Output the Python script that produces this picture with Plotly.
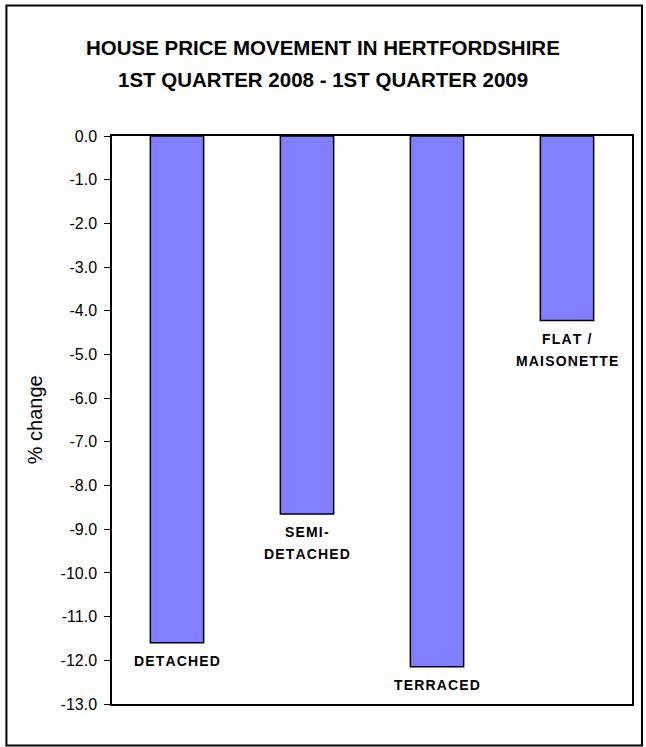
import plotly.graph_objects as go

# ---- data ----
categories = ["DETACHED", "SEMI-DETACHED", "TERRACED", "FLAT / MAISONETTE"]
bar_labels = [["DETACHED"], ["SEMI-", "DETACHED"], ["TERRACED"], ["FLAT /", "MAISONETTE"]]
pct_change = [-11.6, -8.65, -12.15, -4.22]
tick_values = [0, -1, -2, -3, -4, -5, -6, -7, -8, -9, -10, -11, -12, -13]
tick_labels = ["0.0", "-1.0", "-2.0", "-3.0", "-4.0", "-5.0", "-6.0", "-7.0",
               "-8.0", "-9.0", "-10.0", "-11.0", "-12.0", "-13.0"]
title_lines = ["HOUSE PRICE MOVEMENT IN HERTFORDSHIRE", "1ST QUARTER 2008 - 1ST QUARTER 2009"]
y_title = "% change"

W, H = 646, 747
ML, MR, MT, MB = 112, 12, 136, 43
PW, PH = W - ML - MR, H - MT - MB
FONT = "Liberation Sans, Arial, sans-serif"


def px_x(p):
    return (p - ML) / PW


def px_y(p):
    return (H - MB - p) / PH


def spaced(s):
    return "\u200a".join(list(s))


fig = go.Figure(go.Bar(
    x=categories, y=pct_change,
    marker=dict(color="#8080FF", line=dict(color="black", width=1.5)),
    hoverinfo="skip",
))

annotations = []
for cat, val, lines in zip(categories, pct_change, bar_labels):
    for i, ln in enumerate(lines):
        annotations.append(dict(
            x=cat, y=val, xref="x", yref="y", text="<b>" + spaced(ln) + "</b>",
            showarrow=False, yanchor="middle", xanchor="center",
            yshift=-(18.5 + 22 * i),
            font=dict(family=FONT, size=14, color="black"),
        ))

for i, t in enumerate(title_lines):
    annotations.append(dict(
        x=px_x(324), y=px_y(48 + 32 * i), xref="paper", yref="paper",
        text="<b>" + t + "</b>", showarrow=False, xanchor="center", yanchor="middle",
        font=dict(family=FONT, size=20.5, color="black"),
    ))

annotations.append(dict(
    x=px_x(35), y=0.5, xref="paper", yref="paper", text=y_title, textangle=-90,
    showarrow=False, xanchor="center", yanchor="middle",
    font=dict(family=FONT, size=20, color="black"),
))

fig.update_layout(
    width=W, height=H,
    margin=dict(l=ML, r=MR, t=MT, b=MB, pad=0),
    paper_bgcolor="white", plot_bgcolor="white",
    showlegend=False, bargap=0.59,
    annotations=annotations,
    shapes=[dict(type="rect", xref="paper", yref="paper",
                 x0=px_x(6), x1=px_x(644), y0=px_y(745.5), y1=px_y(5.5),
                 line=dict(color="black", width=2), fillcolor="rgba(0,0,0,0)",
                 layer="below")],
    font=dict(family=FONT, color="black"),
)
fig.update_xaxes(showticklabels=False, ticks="", showline=True, mirror=True,
                 linecolor="black", linewidth=1.5, showgrid=False, zeroline=False)
fig.update_yaxes(range=[-13, 0], tickvals=tick_values, ticktext=tick_labels,
                 ticks="outside", ticklen=6, tickcolor="black", tickwidth=1,
                 showline=True, mirror=True, linecolor="black", linewidth=1.5,
                 showgrid=False, zeroline=False, ticklabelstandoff=4,
                 tickfont=dict(family=FONT, size=16, color="black"))

fig.write_html("out.html")
